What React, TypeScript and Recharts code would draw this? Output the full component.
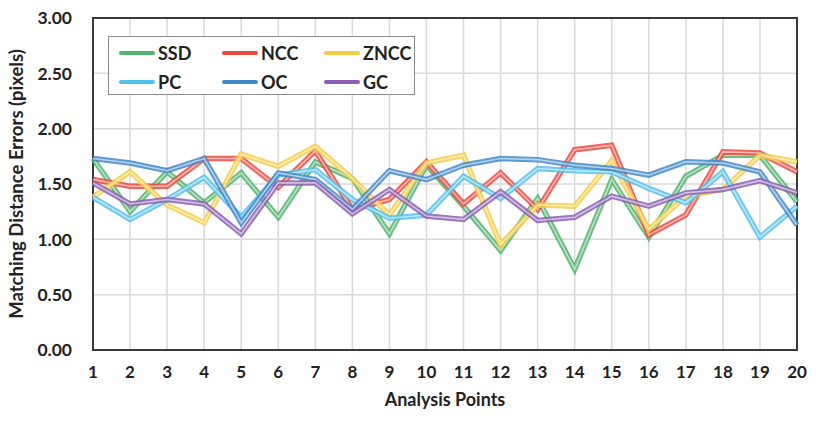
import React from 'react';
import { LineChart, Line, XAxis, YAxis, CartesianGrid, ReferenceArea, Label } from 'recharts';

const points = [1, 2, 3, 4, 5, 6, 7, 8, 9, 10, 11, 12, 13, 14, 15, 16, 17, 18, 19, 20];
const ssd = [1.73, 1.25, 1.61, 1.33, 1.6, 1.2, 1.7, 1.55, 1.05, 1.67, 1.3, 0.9, 1.37, 0.73, 1.54, 1.02, 1.57, 1.76, 1.76, 1.34];
const ncc = [1.54, 1.48, 1.48, 1.73, 1.73, 1.47, 1.8, 1.27, 1.36, 1.7, 1.32, 1.6, 1.27, 1.81, 1.85, 1.04, 1.22, 1.79, 1.78, 1.61];
const zncc = [1.38, 1.61, 1.31, 1.15, 1.77, 1.66, 1.84, 1.55, 1.22, 1.69, 1.76, 0.95, 1.31, 1.3, 1.71, 1.09, 1.39, 1.45, 1.76, 1.7];
const pc = [1.38, 1.18, 1.36, 1.56, 1.2, 1.58, 1.63, 1.36, 1.19, 1.22, 1.57, 1.37, 1.64, 1.62, 1.61, 1.46, 1.33, 1.61, 1.02, 1.3];
const oc = [1.73, 1.69, 1.62, 1.73, 1.15, 1.6, 1.54, 1.27, 1.62, 1.54, 1.67, 1.73, 1.72, 1.67, 1.64, 1.58, 1.7, 1.69, 1.61, 1.13];
const gc = [1.51, 1.32, 1.36, 1.32, 1.05, 1.51, 1.51, 1.23, 1.45, 1.21, 1.18, 1.43, 1.17, 1.2, 1.39, 1.3, 1.42, 1.45, 1.53, 1.42];
const yTicks = [0, 0.5, 1, 1.5, 2, 2.5, 3];

const series = [
  { key: 'SSD', values: ssd, color: '#4fb36b' },
  { key: 'NCC', values: ncc, color: '#ec4a3f' },
  { key: 'ZNCC', values: zncc, color: '#f6cd45' },
  { key: 'PC', values: pc, color: '#52c1ec' },
  { key: 'OC', values: oc, color: '#3f88c9' },
  { key: 'GC', values: gc, color: '#8c5fb3' },
];

const data = points.map((p, i) => {
  const row: Record<string, number> = { x: p };
  series.forEach((s) => (row[s.key] = s.values[i]));
  return row;
});

const font = 'Lato, "Open Sans", sans-serif';

// legend box drawn over the plot (Recharts' Legend would shrink the plot area)
const LegendBox = () => (
  <div
    style={{
      position: 'absolute',
      left: 108,
      top: 36,
      width: 307,
      height: 59,
      border: '1.5px solid #8a8a8a',
      background: '#fff',
      boxSizing: 'border-box',
      display: 'grid',
      gridTemplateColumns: '103px 102px 90px',
      gridTemplateRows: '29px 29px',
      paddingLeft: 10,
      paddingTop: 1,
      fontFamily: font,
      fontWeight: 700,
      fontSize: 18,
      color: '#222',
    }}
  >
    {series.map((s) => (
      <div key={s.key} style={{ display: 'flex', alignItems: 'center' }}>
        <span style={{ width: 36, height: 4, borderRadius: 2, background: s.color, marginRight: 3 }} />
        <span>{s.key}</span>
      </div>
    ))}
  </div>
);

export default function App() {
  return (
    <div style={{ position: 'absolute', left: 0, top: 0, width: 827, height: 426, background: '#fff' }}>
      <LineChart width={827} height={426} data={data} margin={{ top: 18, right: 30, left: 0, bottom: 0 }}>
        <CartesianGrid stroke="#d9d9d9" strokeWidth={1.5} />
        <XAxis
          dataKey="x"
          type="number"
          domain={[1, 20]}
          ticks={points}
          height={76}
          tickLine={false}
          axisLine={false}
          tickMargin={10}
          tick={{ fontFamily: font, fontWeight: 700, fontSize: 17, fill: '#222' }}
        >
          <Label
            content={() => (
              <text x={445} y={406} textAnchor="middle" fontFamily={font} fontWeight={700} fontSize={18} fill="#222">
                Analysis Points
              </text>
            )}
          />
        </XAxis>
        <YAxis
          type="number"
          domain={[0, 3]}
          ticks={yTicks}
          width={93}
          tickLine={false}
          axisLine={false}
          tickMargin={15}
          tickFormatter={(v: number) => v.toFixed(2)}
          tick={{ fontFamily: font, fontWeight: 700, fontSize: 17.5, fill: '#222' }}
        >
          <Label
            content={() => (
              <text
                x={23}
                y={184}
                transform="rotate(-90 23 184)"
                textAnchor="middle"
                fontFamily={font}
                fontWeight={700}
                fontSize={18.5}
                fill="#222"
              >
                Matching Distance Errors (pixels)
              </text>
            )}
          />
        </YAxis>
        <ReferenceArea x1={1} x2={20} y1={0} y2={3} fill="none" stroke="#3a3a3a" strokeWidth={2} ifOverflow="visible" />
        {series.flatMap((s) => [
          <Line
            key={s.key + '-outer'}
            dataKey={s.key}
            stroke={s.color}
            strokeOpacity={0.85}
            strokeWidth={5.5}
            dot={false}
            isAnimationActive={false}
          />,
          <Line
            key={s.key + '-inner'}
            dataKey={s.key}
            stroke="#ffffff"
            strokeOpacity={0.55}
            strokeWidth={1.6}
            dot={false}
            isAnimationActive={false}
          />,
        ])}
      </LineChart>
      <LegendBox />
    </div>
  );
}
